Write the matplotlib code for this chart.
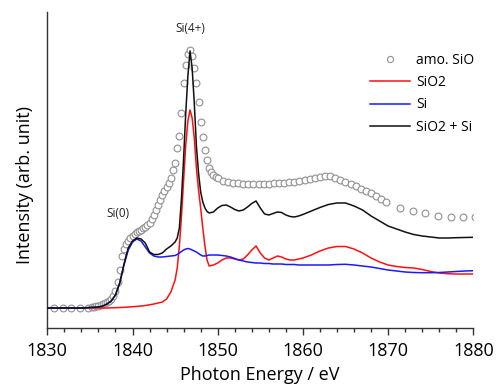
import matplotlib
matplotlib.use('Agg')
import matplotlib.pyplot as plt

plt.rcParams['font.family'] = ['Open Sans', 'DejaVu Sans']

# amorphous SiO, measured points (arb. unit)
amo_energy = [1830.8, 1831.8, 1832.8, 1833.8, 1834.8,
              1835.25, 1835.5, 1835.75, 1836.0, 1836.25, 1836.5, 1836.75, 1837.0,
              1837.25, 1837.5, 1837.75, 1838.0, 1838.25, 1838.5, 1838.75, 1839.0,
              1839.25, 1839.5, 1839.75, 1840.0, 1840.25, 1840.5, 1840.75, 1841.0,
              1841.25, 1841.5, 1841.75, 1842.0, 1842.25, 1842.5, 1842.75, 1843.0,
              1843.25, 1843.5, 1843.75, 1844.0, 1844.25, 1844.5, 1844.75, 1845.0,
              1845.25, 1845.5, 1845.75, 1846.0, 1846.25, 1846.5, 1846.75, 1847.0,
              1847.25, 1847.5, 1847.75, 1848.0, 1848.25, 1848.5, 1848.75, 1849.0,
              1849.25, 1849.5, 1849.75, 1850.0,
              1850.6, 1851.2, 1851.8, 1852.4, 1853.0, 1853.6, 1854.2, 1854.8,
              1855.4, 1856.0, 1856.6, 1857.2, 1857.8, 1858.4, 1859.0, 1859.6,
              1860.2, 1860.8, 1861.4, 1862.0, 1862.6, 1863.2, 1863.8, 1864.4,
              1865.0, 1865.6, 1866.2, 1866.8, 1867.4, 1868.0, 1868.6, 1869.2, 1869.8,
              1871.35, 1872.9, 1874.35, 1875.8, 1877.35, 1878.8, 1880.2]
amo_intensity = [0, 0, 0, 0, 0.5,
                 1, 1.5, 2, 2.5, 3, 4, 5, 6,
                 7, 9, 12, 17, 26, 38, 52, 59,
                 64, 67, 70, 72, 74, 75.5, 77, 78,
                 79.5, 81, 83, 85, 89, 93, 98, 103,
                 108, 113, 117, 121, 125, 130, 138, 145,
                 160, 172, 195, 225, 243, 254, 258, 252,
                 240, 225, 206, 186, 171, 158, 148, 140,
                 136, 133, 131, 129.5,
                 127, 125.5, 124.5, 124.5, 124, 124, 124, 124,
                 124, 124, 124.5, 125, 125, 125.5, 126, 126.5,
                 127.5, 128.5, 129.5, 130.5, 131.5, 131.5, 130, 128,
                 126, 124, 121.5, 119, 117, 115, 112, 109, 105.5,
                 100.3, 97, 94.7, 92.3, 91.3, 90.7, 90.7]

# simulated spectra
energy = [1830, 1832, 1834, 1835, 1836, 1836.5, 1837, 1837.5, 1838, 1838.5,
          1839, 1839.5, 1840, 1840.5, 1841, 1841.5, 1842, 1842.5, 1843, 1843.5,
          1844, 1844.5, 1845, 1845.25, 1845.5, 1845.75, 1846, 1846.25, 1846.5,
          1846.75, 1847, 1847.25, 1847.5, 1847.75, 1848, 1848.25, 1848.5, 1848.75,
          1849, 1849.5, 1850, 1850.5, 1851, 1851.5, 1852, 1852.5, 1853, 1853.5,
          1854, 1854.5, 1855, 1855.5, 1856, 1856.5, 1857, 1857.5, 1858, 1858.5,
          1859, 1859.5, 1860, 1861, 1862, 1863, 1864, 1865, 1866, 1867, 1868,
          1869, 1870, 1871, 1872, 1873, 1874, 1875, 1876, 1877, 1878, 1879, 1880]
sio2 = [0, 0, 0, 0, 0, 0, 0, 0.2, 0.3, 0.5,
        0.7, 1, 1.3, 1.6, 2, 2.5, 3.2, 4, 5, 6,
        9, 16, 28, 40, 62, 92, 128, 163, 187,
        198, 190, 170, 140, 118, 100, 80, 62, 48,
        42, 43, 45, 48, 50, 50, 49, 48, 49, 53,
        58, 62, 55, 50, 48, 50, 52, 51, 49, 48,
        48, 49, 50, 53, 57, 60, 61.5, 61.5, 59, 55, 50,
        46, 43, 41.5, 40.5, 40, 38.5, 36.5, 35, 34.3, 34, 34, 34]
si = [0, 0, 0, 0.5, 1, 2, 4, 7, 13, 25,
      43, 58, 66, 69, 67, 61, 55, 52, 51, 51,
      51.5, 52, 52.5, 53.5, 55, 56.5, 58, 59, 59.5,
      59, 58, 57, 56, 54.5, 53, 52, 52, 52.5,
      53, 53, 53, 52.5, 52, 51, 49.5, 48, 47, 46,
      45.5, 45, 45, 44.5, 44.5, 44, 44, 44, 43.5, 43.5,
      43.5, 43, 43, 43, 43, 43, 43.5, 43.7, 43, 42, 41,
      39.5, 38, 37, 36, 35.5, 35.3, 35.3, 35.5, 36, 36.5, 37, 37.3]
sio2_si = [0, 0, 0, 0.5, 1, 2, 4, 7, 13, 25,
           44, 60, 67, 70, 69, 65, 56, 53.5, 53.5, 55,
           59, 62, 66, 70, 80, 110, 150, 195, 232,
           257, 240, 205, 162, 135, 116, 106, 100, 96.5,
           95, 96, 100, 102.5, 103, 101, 98.5, 97, 98, 101,
           104.5, 107, 100, 94, 93, 94.5, 96, 95.5, 93, 91.5,
           91, 92, 93.5, 97, 100.5, 103.5, 105, 105, 102, 98, 92,
           87, 82, 79, 76, 73.5, 72, 71, 70, 70, 70.3, 70.5, 70.7]

fig = plt.figure(figsize=(4.97, 3.85), dpi=100)
ax = fig.add_axes([0.0952, 0.148, 0.8571, 0.821])

ax.plot(amo_energy, amo_intensity, 'o', ms=4.9, mfc='white', mec='#909090',
        mew=0.8, ls='none', label='amo. SiO', zorder=1)
ax.plot(energy, sio2, color='#ff1010', lw=1.1, label='SiO2', zorder=2)
ax.plot(energy, si, color='#1a1aff', lw=1.1, label='Si', zorder=2)
ax.plot(energy, sio2_si, color='#111111', lw=1.1, label='SiO2 + Si', zorder=3)

ax.text(1846.75, 276, 'Si(4+)', ha='center', va='baseline', fontsize=8.5, color='#222222')
ax.text(1838.3, 91, 'Si(0)', ha='center', va='baseline', fontsize=8.5, color='#222222')

ax.set_xlim(1830, 1880)
ax.set_ylim(-20, 296)
ax.set_xticks([1830, 1840, 1850, 1860, 1870, 1880])
ax.set_xticks(range(1830, 1881, 2), minor=True)
ax.set_yticks([])
ax.tick_params(axis='x', which='major', direction='out', length=5, width=1,
               labelsize=13, pad=5, color='#333333')
ax.tick_params(axis='x', which='minor', direction='out', length=3, width=1, color='#333333')
for s in ['top', 'right']:
    ax.spines[s].set_visible(False)
for s in ['left', 'bottom']:
    ax.spines[s].set_color('#333333')
    ax.spines[s].set_linewidth(1.0)

fig.text(260 / 497, 1 - 380 / 385, 'Photon Energy / eV', ha='center', va='baseline', fontsize=13)
fig.text(25 / 497, 1 - 185 / 385, 'Intensity (arb. unit)', ha='center', va='center',
         rotation=90, fontsize=13)

ax.legend(loc='upper left', bbox_to_anchor=(370 / 497, 1 - 53 / 385),
          bbox_transform=fig.transFigure, frameon=False, fontsize=10,
          handlelength=2.9, handletextpad=0.43, labelspacing=0.52,
          borderpad=0, borderaxespad=0, numpoints=1, markerscale=0.9)

fig.savefig('out.png', dpi=100)
